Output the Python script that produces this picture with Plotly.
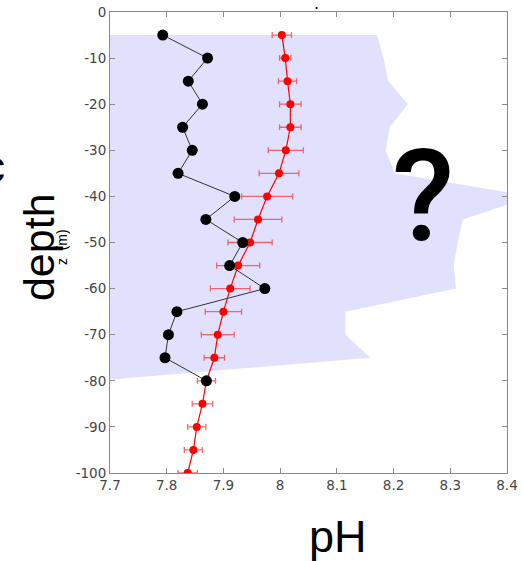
import plotly.graph_objects as go

# Depth levels (m) and pH profiles
depth = [-5, -10, -15, -20, -25, -30, -35, -40, -45, -50, -55, -60, -65, -70, -75, -80]
ph_obs = [7.793, 7.872, 7.838, 7.863, 7.828, 7.845, 7.820, 7.920, 7.869, 7.934,
          7.911, 7.973, 7.818, 7.803, 7.797, 7.870]

depth_model = [-5, -10, -15, -20, -25, -30, -35, -40, -45, -50, -55, -60, -65, -70,
               -75, -80, -85, -90, -95, -100]
ph_model = [8.003, 8.009, 8.013, 8.018, 8.018, 8.010, 7.998, 7.977, 7.961, 7.947,
            7.926, 7.912, 7.900, 7.890, 7.884, 7.870, 7.863, 7.853, 7.847, 7.837]
ph_model_err = [0.017, 0.010, 0.016, 0.019, 0.019, 0.031, 0.035, 0.045, 0.042, 0.039,
                0.038, 0.035, 0.032, 0.029, 0.018, 0.016, 0.018, 0.016, 0.016, 0.017]

# Envelope of the shaded band (right edge per depth, closed on the left axis)
band_depth = [-5, -10, -15, -20, -25, -30, -35, -40, -45, -50, -55, -60, -65, -70, -75, -79.7]
band_right = [8.171, 8.182, 8.191, 8.225, 8.193, 8.186, 8.202, 8.445, 8.322, 8.313,
              8.306, 8.310, 8.115, 8.115, 8.159, 7.7]
band_left = 7.7

xtick_vals = [7.7, 7.8, 7.9, 8.0, 8.1, 8.2, 8.3, 8.4]
xtick_text = ["7.7", "7.8", "7.9", "8", "8.1", "8.2", "8.3", "8.4"]
ytick_vals = [0, -10, -20, -30, -40, -50, -60, -70, -80, -90, -100]
ytick_text = ["0", "-10", "-20", "-30", "-40", "-50", "-60", "-70", "-80", "-90", "-100"]

fig = go.Figure()

band_x = [band_left] + band_right + [band_left]
band_y = [band_depth[0]] + band_depth + [band_depth[0]]
fig.add_trace(go.Scatter(
    x=band_x, y=band_y, mode="lines", fill="toself",
    fillcolor="rgb(225,225,253)", line=dict(width=0), hoverinfo="skip",
))

fig.add_trace(go.Scatter(
    x=ph_model, y=depth_model, mode="lines+markers",
    line=dict(color="rgb(255,0,0)", width=1.2),
    marker=dict(color="rgb(255,0,0)", size=8),
    error_x=dict(type="data", array=ph_model_err, visible=True,
                 color="rgba(240,60,60,0.75)", thickness=1.3, width=3),
))

fig.add_trace(go.Scatter(
    x=ph_obs, y=depth, mode="lines+markers",
    line=dict(color="#333333", width=1),
    marker=dict(color="black", size=11),
))

axis_common = dict(
    showgrid=False, zeroline=False, showline=True, linecolor="#8a8a8a", linewidth=1,
    mirror="ticks", ticks="inside", ticklen=5, tickcolor="#8a8a8a", tickwidth=1,
    automargin=False,
    tickfont=dict(family="DejaVu Sans", size=13.5, color="#444444"),
)

fig.update_layout(
    width=523, height=561,
    margin=dict(l=110, r=16, t=12, b=88),
    paper_bgcolor="white", plot_bgcolor="white",
    showlegend=False,
    xaxis=dict(range=[7.7, 8.4], tickvals=xtick_vals, ticktext=xtick_text, **axis_common),
    yaxis=dict(range=[-100, 0], tickvals=ytick_vals, ticktext=ytick_text, **axis_common),
)

fig.add_annotation(text="depth", xref="paper", yref="paper", x=-0.179, y=0.49,
                   xanchor="center", yanchor="middle", textangle=-90, showarrow=False,
                   font=dict(family="Liberation Sans", size=43, color="black"))
fig.add_annotation(text="z  (m)", xref="paper", yref="paper", x=-0.121, y=0.49,
                   xanchor="center", yanchor="middle", textangle=-90, showarrow=False,
                   font=dict(family="Liberation Sans", size=14, color="black"))
fig.add_annotation(text="pH", xref="paper", yref="paper", x=0.574, y=-0.137,
                   xanchor="center", yanchor="middle", showarrow=False,
                   font=dict(family="Liberation Sans", size=45, color="black"))
fig.add_annotation(text="?", xref="paper", yref="paper", x=0.788, y=0.60,
                   xanchor="center", yanchor="middle", showarrow=False,
                   font=dict(family="Roboto", size=128, weight=500, color="black"))
fig.add_annotation(text="c", xref="paper", yref="paper", x=-0.292, y=0.665,
                   xanchor="center", yanchor="middle", showarrow=False,
                   font=dict(family="Liberation Sans", size=44, color="black"))
fig.add_annotation(text=".", xref="paper", yref="paper", x=0.519, y=1.02,
                   xanchor="center", yanchor="middle", showarrow=False,
                   font=dict(family="Liberation Sans", size=18, color="black"))

fig.write_html("out.html")
